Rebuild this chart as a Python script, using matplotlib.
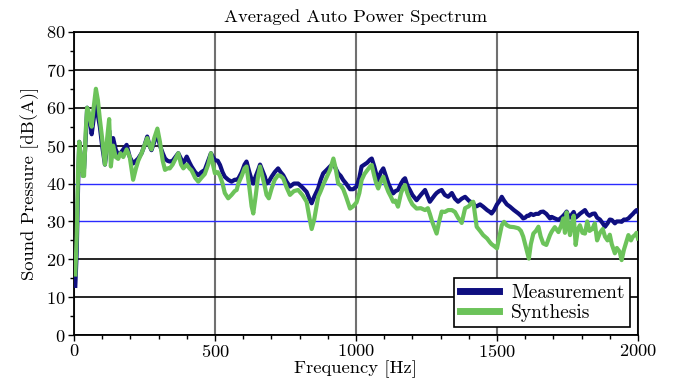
import matplotlib.pyplot as plt
from matplotlib.ticker import MultipleLocator

plt.rcParams['font.family'] = 'cmr10'
plt.rcParams['mathtext.fontset'] = 'cm'
plt.rcParams['axes.formatter.use_mathtext'] = True

# frequency grid [Hz] and levels [dB(A)]
freq = [5, 10, 15, 19, 25, 31, 36, 42, 47, 52, 58, 63, 70, 78, 85, 92, 100, 110, 118, 125,
        131, 139, 148, 157, 165, 175, 187, 198, 210, 220, 228, 240, 250, 260, 268, 275, 285, 296, 305, 315,
        323, 332, 340, 350, 360, 370, 380, 388, 400, 410, 417, 430, 441, 452, 464, 476, 486, 493, 500, 510,
        518, 527, 535, 547, 559, 570, 577, 583, 595, 605, 612, 622, 630, 636, 645, 653, 660, 668, 677, 683,
        691, 701, 712, 724, 733, 742, 754, 766, 780, 795, 810, 825, 835, 843, 852, 866, 875, 884, 895, 908,
        920, 928, 937, 946, 955, 965, 979, 990, 1002, 1012, 1020, 1030, 1040, 1050, 1056, 1065, 1072, 1079, 1088, 1097,
        1106, 1115, 1124, 1132, 1140, 1149, 1160, 1168, 1174, 1182, 1191, 1200, 1215, 1230, 1245, 1255, 1262, 1270, 1280, 1286,
        1295, 1304, 1315, 1327, 1340, 1351, 1362, 1375, 1387, 1400, 1410, 1416, 1422, 1428, 1440, 1451, 1465, 1475, 1481, 1490,
        1500, 1510, 1517, 1525, 1535, 1546, 1560, 1576, 1585, 1593, 1600, 1607, 1613, 1620, 1629, 1638, 1647, 1655, 1664, 1675,
        1688, 1694, 1705, 1718, 1728, 1735, 1741, 1747, 1753, 1759, 1767, 1772, 1779, 1787, 1794, 1803, 1812, 1820, 1828, 1838,
        1847, 1855, 1865, 1875, 1883, 1892, 1900, 1907, 1918, 1925, 1935, 1942, 1950, 1958, 1966, 1975, 1982, 1989, 1995, 2000]

measurement = [13, 22, 40, 51, 46, 43, 44, 52, 60, 58, 56, 53, 57, 61, 58, 55, 50, 45, 50, 54,
               50, 52, 49, 47.5, 48, 49, 50.2, 47, 45.3, 46, 46.6, 48, 50, 52.4, 50, 48.8, 51, 53, 50, 48,
               46.6, 46, 45.8, 46, 47, 48, 46.5, 45.3, 47.1, 45.5, 44.5, 43, 42.2, 43, 43.6, 46, 48, 47, 46.2, 46,
               44.9, 43, 41.8, 41, 40.5, 41, 41, 41.3, 43, 45, 45.8, 43, 41, 40, 42, 43.5, 45, 43.5, 41.8, 40,
               40.5, 41.8, 43, 44, 43, 42.2, 40.5, 39.2, 40, 40, 39, 37.8, 36, 34.8, 36.5, 38.7, 41, 42.7, 43.5, 44.5,
               45.3, 44, 42.7, 42, 40.9, 40, 38.5, 38.5, 39.2, 41.5, 44.5, 45, 45.5, 46.3, 46.6, 44.5, 42.5, 40.9, 43, 44,
               42, 40, 38.5, 37.4, 38, 38.3, 40, 41, 41.4, 39.5, 38.3, 37, 35.6, 37, 38.3, 36.5, 35.2, 36, 37, 37.5,
               38, 38.3, 37, 36.5, 37.5, 36, 35.2, 36, 36.5, 35.5, 35, 34.8, 34, 34, 34.5, 33.9, 33, 32.5, 32.1, 33,
               34.5, 35.5, 36.5, 35.5, 34.5, 33.9, 33, 32.1, 31.5, 30.8, 31, 31.5, 31.5, 32, 31.7, 32, 32, 32.5, 32.6, 32,
               30.8, 31.2, 30.8, 30.4, 31, 31.5, 32, 32.6, 31.5, 31, 32, 32.5, 31, 31.5, 32, 32.5, 33, 32, 31.5, 32,
               32.1, 31, 30.5, 29.5, 28.6, 29.5, 30.5, 30.4, 29.5, 30, 30, 29.9, 30.5, 30.5, 30.8, 31.5, 32, 32.6, 33, 32.5]

synthesis = [16, 26, 44, 51, 47, 42, 42, 54, 60, 59, 57, 55, 60, 65, 62, 57, 52, 45, 52, 57,
             44.5, 50, 47, 46.5, 48, 47, 49, 47, 41, 44, 46, 48, 50, 52, 50, 49, 52, 54.5, 51, 46,
             43.6, 44, 44, 45, 46.5, 48, 45, 44, 45, 44, 43.5, 41.5, 40.5, 41.5, 42.5, 45, 48, 45, 42.7, 43,
             42, 40, 37.5, 36.1, 37, 38, 38.3, 40, 42, 44, 44.5, 39, 34, 32.1, 37, 42, 44.5, 42, 39.2, 37,
             36.1, 38.7, 41, 42.2, 42, 41.4, 39, 37, 38, 38.3, 37, 35.2, 31, 28, 30.5, 36.5, 38, 39.7, 41.5, 43.6,
             46.6, 44, 40, 39.5, 38.5, 36.5, 33.4, 34, 35, 37.5, 40.9, 42.5, 43.5, 44.5, 44.9, 42, 40, 38.7, 40.5, 41.8,
             39.5, 37.8, 36.5, 35.2, 35.5, 33.9, 37.5, 39, 39.6, 37.5, 35.8, 34.5, 33.4, 33.5, 33, 33.5, 32, 30, 28, 26.8,
             30, 32.6, 32.5, 33, 33, 32.5, 31, 29.6, 33.5, 34, 35, 35.2, 32, 28.6, 27.5, 26.4, 25.5, 24.5, 24, 23.5,
             22.9, 26.5, 29, 29.9, 29, 28.6, 28.5, 28.2, 27.5, 26, 24, 22, 20.2, 24, 26.8, 27.5, 28.6, 26, 24.2, 23.8,
             26.4, 27.3, 28.5, 27.2, 29, 30.8, 27, 32.4, 29, 26.4, 30, 31.5, 23.8, 28, 29, 27, 26.8, 30, 27.5, 28,
             29.5, 25, 27, 28, 26, 25, 26.5, 24, 21.6, 23, 22, 19.8, 22.5, 24.5, 26.4, 25, 26, 26.4, 27, 25.5]

fig = plt.figure(figsize=(6.78, 3.80), dpi=100)
ax = fig.add_axes([0.109, 0.118, 0.832, 0.798])

ax.plot(freq, measurement, color='#0f0f80', lw=3.0, label='Measurement', zorder=3)
ax.plot(freq, synthesis, color='#6cc35a', lw=3.0, label='Synthesis', zorder=4)

ax.set_xlim(0, 2000)
ax.set_ylim(0, 80)
ax.xaxis.set_major_locator(MultipleLocator(500))
ax.xaxis.set_minor_locator(MultipleLocator(100))
ax.yaxis.set_major_locator(MultipleLocator(10))
ax.yaxis.set_minor_locator(MultipleLocator(5))
ax.tick_params(which='both', direction='out', labelsize=13.2, width=1.0, pad=2)
ax.tick_params(which='major', length=4)
ax.tick_params(which='minor', length=3)

ax.grid(True, which='major', axis='y', color='black', lw=1.2, zorder=1)
ax.grid(True, which='major', axis='x', color='#707070', lw=1.5, zorder=1)
for val, gl in zip(ax.get_yticks(), ax.get_ygridlines()):
    if val in (30, 40):
        gl.set_color('#2a2aff')
        gl.set_linewidth(1.0)
ax.set_axisbelow(True)
for sp in ax.spines.values():
    sp.set_linewidth(1.3)

ax.set_title('Averaged Auto Power Spectrum', fontsize=13.4, pad=7)
ax.set_xlabel('Frequency [Hz]', fontsize=13.4, labelpad=0)
ax.set_ylabel('Sound Pressure [dB(A)]', fontsize=13.4, labelpad=5)

leg = ax.legend(loc='lower right', fontsize=14, fancybox=False, framealpha=1,
                edgecolor='black', handlelength=2.0, borderpad=0.3, labelspacing=0.1,
                borderaxespad=0.4, handletextpad=0.6)
leg.get_frame().set_linewidth(1.2)
for ln in leg.get_lines():
    ln.set_linewidth(5)

plt.savefig('out.png', dpi=100)
